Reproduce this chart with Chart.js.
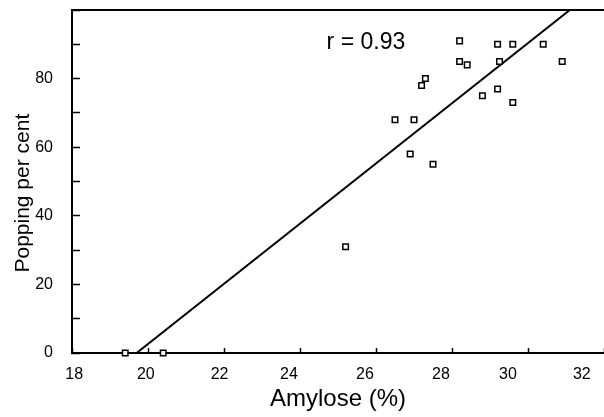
<!DOCTYPE html>
<html>
<head>
<meta charset="utf-8">
<script src="https://cdn.jsdelivr.net/npm/chart.js@4"></script>
<style>
  html, body { margin: 0; padding: 0; background: #fff; }
  #wrap { width: 604px; height: 417px; }
</style>
</head>
<body>
<div id="wrap"><canvas id="chart"></canvas></div>
<script>
// data
const amylose = [19.4, 20.4, 25.2, 26.5, 27.0, 26.9, 27.5, 27.2, 27.3, 28.2, 28.2, 28.4,
                 28.8, 29.2, 29.2, 29.25, 29.6, 29.6, 30.4, 30.9];
const popping = [0, 0, 31, 68, 68, 58, 55, 78, 80, 91, 85, 84,
                 75, 77, 90, 85, 90, 73, 90, 85];

// regression line end points (r = 0.93)
const fitX = [19.7, 31.1];
const fitY = [0, 100];

const xTicks = [18, 20, 22, 24, 26, 28, 30, 32];
const yLabelled = [0, 20, 40, 60, 80];
const rText = "r = 0.93";

const font = "'Liberation Sans', Arial, Helvetica, sans-serif";

// the printed x labels drift left of their ticks; nudge with spaces (px)
const labelNudge = { 18: 3, 20: -2, 22: -5, 24: -10, 26: -11, 28: -12, 30: -21, 32: -23 };

function nudged(v) {
    const n = Math.round(Math.abs(labelNudge[v] || 0) / 2.22);
    const pad = ' '.repeat(n);
    return labelNudge[v] > 0 ? pad + v : v + pad;
}

function toPoints(xs, ys) {
    let pts = [];
    xs.forEach((x, i) => pts.push({ x: x, y: ys[i] }));
    return pts;
}

// top frame line + r label
const extras = {
    id: 'extras',
    afterDraw(chart) {
        const ctx = chart.ctx;
        const area = chart.chartArea;
        const xs = chart.scales.x;
        const ys = chart.scales.y;
        ctx.save();
        ctx.strokeStyle = '#000';
        ctx.lineWidth = 2;
        ctx.beginPath();
        ctx.moveTo(area.left - 1, area.top);
        ctx.lineTo(area.right, area.top);
        ctx.stroke();

        ctx.fillStyle = '#000';
        ctx.font = `23px ${font}`;
        ctx.textAlign = 'left';
        ctx.textBaseline = 'middle';
        ctx.fillText(rText, xs.getPixelForValue(24.7), ys.getPixelForValue(90.6));
        ctx.restore();
    }
};

const ctx = document.getElementById('chart');

new Chart(ctx, {
    type: 'scatter',
    data: {
        datasets: [{
            label: 'samples',
            data: toPoints(amylose, popping),
            pointStyle: 'rect',
            pointRadius: 3.9,
            pointBorderWidth: 1.5,
            pointBorderColor: '#000',
            pointBackgroundColor: '#fff',
            clip: false,
            order: 0
        }, {
            label: 'fit',
            type: 'line',
            data: toPoints(fitX, fitY),
            showLine: true,
            borderColor: '#000',
            borderWidth: 2,
            pointRadius: 0,
            order: 1
        }]
    },
    options: {
        responsive: true,
        maintainAspectRatio: false,
        animation: false,
        layout: { autoPadding: false, padding: { top: 10, right: -3, left: 0, bottom: 0 } },
        plugins: {
            legend: { display: false },
            tooltip: { enabled: false }
        },
        scales: {
            x: {
                type: 'linear',
                min: 18,
                max: 32,
                afterBuildTicks: (scale) => {
                    scale.ticks = xTicks.map(v => ({ value: v }));
                },
                afterFit: (scale) => {
                    scale.height = 64;
                    scale.paddingRight = 0;
                    scale.paddingLeft = 0;
                },
                grid: {
                    drawOnChartArea: false,
                    drawTicks: true,
                    tickLength: -5,
                    tickWidth: 1.5,
                    tickColor: '#000'
                },
                border: { color: '#000', width: 2 },
                ticks: {
                    color: '#000',
                    font: { family: font, size: 16 },
                    padding: 17,
                    maxRotation: 0,
                    callback: (v) => nudged(v)
                },
                title: {
                    display: true,
                    text: 'Amylose (%)',
                    color: '#000',
                    font: { family: font, size: 24 },
                    padding: { top: 3, bottom: 3 }
                }
            },
            y: {
                min: 0,
                max: 100,
                ticks: {
                    stepSize: 10,
                    color: '#000',
                    font: { family: font, size: 16 },
                    padding: 27,
                    callback: (v) => yLabelled.includes(v) ? String(v) : ''
                },
                afterFit: (scale) => {
                    scale.width = 72;
                    scale.paddingTop = 0;
                    scale.paddingBottom = 0;
                },
                grid: {
                    drawOnChartArea: false,
                    drawTicks: true,
                    tickLength: -8,
                    tickWidth: 1.5,
                    tickColor: '#000'
                },
                border: { color: '#000', width: 2 },
                title: {
                    display: true,
                    text: 'Popping per cent    ',
                    color: '#000',
                    font: { family: font, size: 21 },
                    padding: { top: 11, bottom: 11 }
                }
            }
        }
    },
    plugins: [extras]
});
</script>
</body>
</html>
